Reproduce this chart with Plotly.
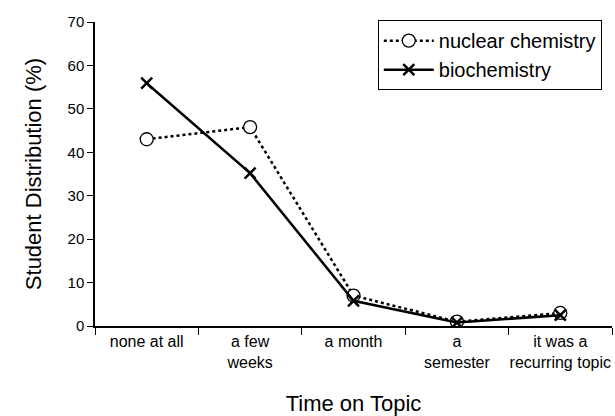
import plotly.graph_objects as go

categories = ["none at all", "a few<br>weeks", "a month", "a<br>semester", "it was a<br>recurring topic"]
nuclear_chemistry = [43.0, 45.8, 7.0, 1.0, 3.0]
biochemistry = [55.9, 35.2, 5.8, 0.8, 2.5]

fig = go.Figure()

fig.add_trace(go.Scatter(
    x=categories,
    y=nuclear_chemistry,
    name="nuclear chemistry",
    mode="lines+markers",
    line=dict(color="black", width=2.5, dash="dot"),
    marker=dict(symbol="circle", size=13, color="white", line=dict(color="black", width=1.3)),
))

fig.add_trace(go.Scatter(
    x=categories,
    y=biochemistry,
    name="biochemistry",
    mode="lines+markers",
    line=dict(color="black", width=2.5),
    marker=dict(symbol="x-thin", size=11, color="black", line=dict(color="black", width=2.5)),
))

fig.update_layout(
    width=615,
    height=416,
    margin=dict(l=95, r=3, t=22, b=90),
    paper_bgcolor="white",
    plot_bgcolor="white",
    font=dict(family="Liberation Sans, Arial, sans-serif", color="black", size=14),
    legend=dict(
        x=0.547, y=1.006, xanchor="left", yanchor="top",
        bordercolor="black", borderwidth=1, bgcolor="white",
        font=dict(size=20), tracegroupgap=0, itemwidth=50,
    ),
    xaxis=dict(
        showline=True, linecolor="black", linewidth=1.5,
        ticks="outside", tickson="boundaries", ticklen=7, tickcolor="black",
        showgrid=False, zeroline=False, automargin=False,
        range=[-0.5, 4.5], tickangle=0,
        tickfont=dict(size=16),
        title=dict(text="Time on Topic", font=dict(size=22), standoff=26),
    ),
    yaxis=dict(
        showline=True, linecolor="black", linewidth=1.5,
        ticks="outside", ticklen=6, tickcolor="black",
        showgrid=False, zeroline=False, automargin=False,
        range=[0, 70], dtick=10,
        tickfont=dict(size=15),
        title=dict(text="Student Distribution (%)", font=dict(size=22), standoff=20),
    ),
)

# drop the default page margin so the figure fills the window without scrollbars
fig.write_html(
    "out.html",
    config={"displayModeBar": False},
    post_script="document.body.style.margin = '0';",
)
